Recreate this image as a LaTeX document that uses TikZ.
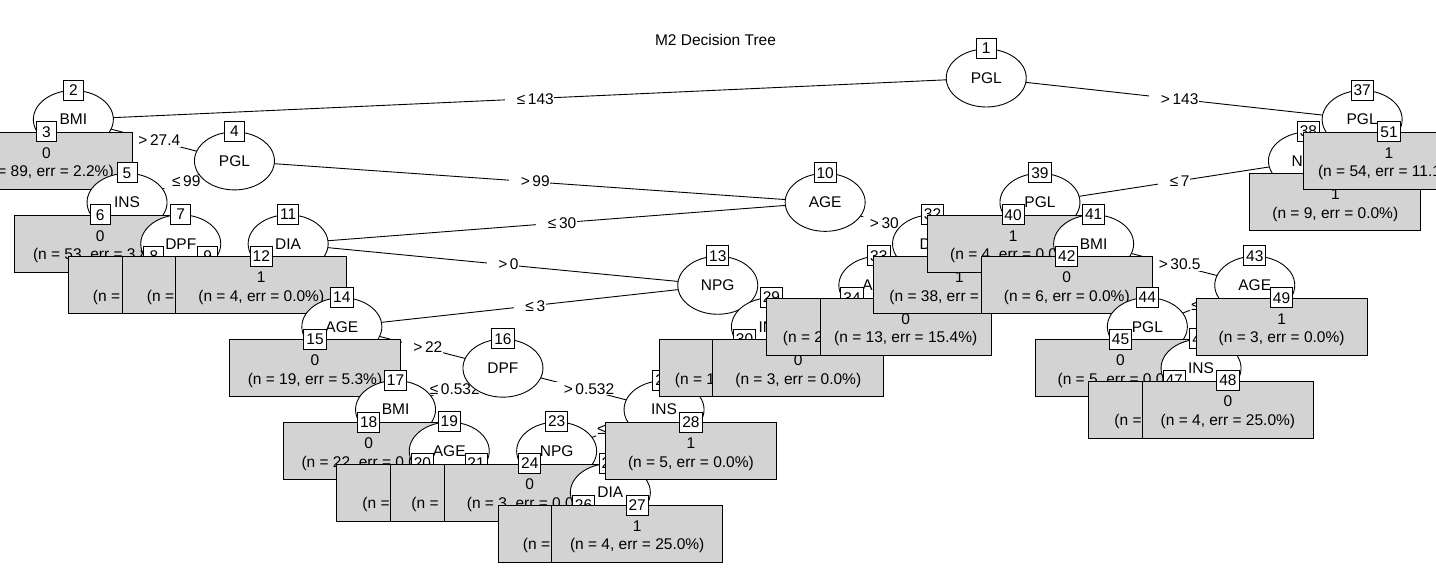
\documentclass[tikz,border=0pt]{standalone}
\usepackage{fontspec}
\setmainfont{Liberation Sans}
\usetikzlibrary{shapes.geometric,calc}
\definecolor{boxgray}{RGB}{211,211,211}
\tikzset{
  inner/.style={ellipse, draw, fill=white, minimum width=80pt, minimum height=58pt, inner sep=0pt},
  idbox/.style={rectangle, draw, fill=white, minimum width=20pt, minimum height=20pt, inner sep=2.5pt},
  leafbox/.style={rectangle, draw, fill=boxgray, minimum width=171pt, minimum height=57pt, anchor=north, inner sep=0pt},
  elbl/.style={fill=white, inner xsep=0.5pt, inner ysep=1pt, execute at begin node={\hspace*{11pt}}},
  plbl/.style={fill=white, inner sep=1pt, anchor=west},
  txt/.style={inner sep=0pt},
  frag/.style={inner sep=0pt, anchor=west},
}
\newcommand{\drawinner}[2]{\node[inner] (e#1) at (c#1) {#2}; \node[idbox] (i#1) at (e#1.north) {#1};}
\newcommand{\drawleaf}[1]{\node[leafbox] (b#1) at (t#1) {}; \node[idbox] (i#1) at (t#1) {#1};}
\newcommand{\leafclass}[2]{\node[txt] (k#1) at ([yshift=-21pt]t#1) {#2};}
\newcommand{\leafn}[2]{\node[txt] (m#1) at ([yshift=-41pt]t#1) {#2};}
\newcommand{\leaffrag}[3]{\path let \p1=([yshift=-41pt]t#1) in node[frag] (m#1) at (#2pt,\y1) {#3};}
\begin{document}
\begin{tikzpicture}[x=1pt, y=-1pt, line width=0.9pt, every node/.style={font=\fontsize{15.5pt}{18pt}\selectfont}]
\useasboundingbox (0,0) rectangle (1436,574);
\clip (0,0) rectangle (1436,574);
\fill[white] (0,0) rectangle (1436,574);
% inner node centres
\coordinate (c1) at (986.25,78);
\coordinate (c2) at (73.35,119.45);
\coordinate (c4) at (234.45,160.9);
\coordinate (c5) at (127.05,202.35);
\coordinate (c7) at (180.75,243.8);
\coordinate (c10) at (825.15,202.35);
\coordinate (c11) at (288.15,243.8);
\coordinate (c13) at (717.75,285.25);
\coordinate (c14) at (341.85,326.7);
\coordinate (c16) at (502.95,368.15);
\coordinate (c17) at (395.55,409.6);
\coordinate (c19) at (449.25,451.05);
\coordinate (c22) at (664.05,409.6);
\coordinate (c23) at (556.65,451.05);
\coordinate (c25) at (610.35,492.5);
\coordinate (c29) at (771.45,326.7);
\coordinate (c32) at (932.55,243.8);
\coordinate (c33) at (878.85,285.25);
\coordinate (c37) at (1362.15,119.45);
\coordinate (c38) at (1308.45,160.9);
\coordinate (c39) at (1039.95,202.35);
\coordinate (c41) at (1093.65,243.8);
\coordinate (c43) at (1254.75,285.25);
\coordinate (c44) at (1147.35,326.7);
\coordinate (c46) at (1201.05,368.15);
% terminal box tops
\coordinate (t3) at (46.5,131.9);
\coordinate (t6) at (100.2,214.8);
\coordinate (t8) at (153.9,256.25);
\coordinate (t9) at (207.6,256.25);
\coordinate (t12) at (261.3,256.25);
\coordinate (t15) at (315,339.15);
\coordinate (t18) at (368.7,422.05);
\coordinate (t20) at (422.4,463.5);
\coordinate (t21) at (476.1,463.5);
\coordinate (t24) at (529.8,463.5);
\coordinate (t26) at (583.5,504.95);
\coordinate (t27) at (637.2,504.95);
\coordinate (t28) at (690.9,422.05);
\coordinate (t30) at (744.6,339.15);
\coordinate (t31) at (798.3,339.15);
\coordinate (t34) at (852,297.7);
\coordinate (t35) at (905.7,297.7);
\coordinate (t36) at (959.4,256.25);
\coordinate (t40) at (1013.1,214.8);
\coordinate (t42) at (1066.8,256.25);
\coordinate (t45) at (1120.5,339.15);
\coordinate (t47) at (1174.2,380.6);
\coordinate (t48) at (1227.9,380.6);
\coordinate (t49) at (1281.6,297.7);
\coordinate (t50) at (1335.3,173.35);
\coordinate (t51) at (1389,131.9);
\coordinate (tpos) at (715.5,40);
\node (title) at (tpos) {M2 Decision Tree};
% node 1
\draw (c1) -- node[elbl]{≤\,143} (c2);
\draw (c1) -- node[elbl]{>\,143} (c37);
\drawinner{1}{PGL}
% node 2
\draw (c2) -- (t3);
\draw (c2) -- node[elbl]{>\,27.4} (c4);
\drawinner{2}{BMI}
\drawleaf{3}\leafclass{3}{0}\leafn{3}{(n = 89, err = 2.2\%)}
% node 4
\draw (c4) -- node[elbl]{≤\,99} (c5);
\draw (c4) -- node[elbl]{>\,99} (c10);
\drawinner{4}{PGL}
% node 5
\draw (c5) -- (t6);
\draw (c5) -- (c7);
\drawinner{5}{INS}
\drawleaf{6}\leafclass{6}{0}\leafn{6}{(n = 53, err = 3.8\%)}
% node 7
\draw (c7) -- (t8);
\draw (c7) -- (t9);
\drawinner{7}{DPF}
\drawleaf{8}\leaffrag{8}{92.5}{(n =}
\drawleaf{9}\leaffrag{9}{146.5}{(n =}
% node 10
\draw (c10) -- node[elbl]{≤\,30} (c11);
\draw (c10) -- node[elbl]{>\,30} (c32);
\drawinner{10}{AGE}
% node 11
\draw (c11) -- (t12);
\draw (c11) -- node[elbl]{>\,0} (c13);
\drawinner{11}{DIA}
\drawleaf{12}\leafclass{12}{1}\leafn{12}{(n = 4, err = 0.0\%)}
% node 13
\draw (c13) -- node[elbl]{≤\,3} (c14);
\draw (c13) -- node[elbl]{>\,3} (c29);
\drawinner{13}{NPG}
% node 14
\draw (c14) -- (t15);
\draw (c14) -- node[elbl]{>\,22} (c16);
\drawinner{14}{AGE}
\drawleaf{15}\leafclass{15}{0}\leafn{15}{(n = 19, err = 5.3\%)}
% node 16
\draw (c16) -- node[elbl]{≤\,0.532} (c17);
\draw (c16) -- node[elbl]{>\,0.532} (c22);
\drawinner{16}{DPF}
% node 17
\draw (c17) -- (t18);
\draw (c17) -- (c19);
\drawinner{17}{BMI}
\drawleaf{18}\leafclass{18}{0}\leafn{18}{(n = 22, err = 0.0\%)}
% node 19
\draw (c19) -- (t20);
\draw (c19) -- (t21);
\drawinner{19}{AGE}
\drawleaf{20}\leaffrag{20}{362}{(n =}
\drawleaf{21}\leaffrag{21}{411}{(n =}
% node 22
\draw (c22) -- (c23);
\coordinate (p22) at (596,430.3);
\node[plbl] (l22) at (p22) {≤};
\draw (c22) -- (t28);
\drawinner{22}{INS}
% node 23
\draw (c23) -- (t24);
\draw (c23) -- (c25);
\drawinner{23}{NPG}
\drawleaf{24}\leafclass{24}{0}\leafn{24}{(n = 3, err = 0.0\%)}
% node 25
\draw (c25) -- (t26);
\draw (c25) -- (t27);
\drawinner{25}{DIA}
\drawleaf{26}\leaffrag{26}{522.5}{(n =}
\drawleaf{27}\leafclass{27}{1}\leafn{27}{(n = 4, err = 25.0\%)}
\drawleaf{28}\leafclass{28}{1}\leafn{28}{(n = 5, err = 0.0\%)}
% node 29
\draw (c29) -- (t30);
\draw (c29) -- (t31);
\drawinner{29}{INS}
\drawleaf{30}\leaffrag{30}{674.5}{(n = 1}
\drawleaf{31}\leafclass{31}{0}\leafn{31}{(n = 3, err = 0.0\%)}
% node 32
\draw (c32) -- (c33);
\draw (c32) -- (t36);
\drawinner{32}{DIA}
% node 33
\draw (c33) -- (t34);
\draw (c33) -- (t35);
\drawinner{33}{AGE}
\drawleaf{34}\leaffrag{34}{782.5}{(n = 2}
\drawleaf{35}\leafclass{35}{0}\leafn{35}{(n = 13, err = 15.4\%)}
\drawleaf{36}\leafclass{36}{1}\leaffrag{36}{889}{(n = 38, err =}
% node 37
\draw (c37) -- (c38);
\draw (c37) -- (t51);
\drawinner{37}{PGL}
% node 38
\draw (c38) -- node[elbl]{≤\,7} (c39);
\draw (c38) -- (t50);
\drawinner{38}{NPG}
% node 39
\draw (c39) -- (t40);
\draw (c39) -- (c41);
\drawinner{39}{PGL}
\drawleaf{40}\leafclass{40}{1}\leafn{40}{(n = 4, err = 0.0\%)}
% node 41
\draw (c41) -- (t42);
\draw (c41) -- node[elbl]{>\,30.5} (c43);
\drawinner{41}{BMI}
\drawleaf{42}\leafclass{42}{0}\leafn{42}{(n = 6, err = 0.0\%)}
% node 43
\draw (c43) -- (c44);
\coordinate (p43) at (1190,306);
\node[plbl] (l43) at (p43) {≤};
\draw (c43) -- (t49);
\drawinner{43}{AGE}
% node 44
\draw (c44) -- (t45);
\draw (c44) -- (c46);
\drawinner{44}{PGL}
\drawleaf{45}\leafclass{45}{0}\leafn{45}{(n = 5, err = 0.0\%)}
% node 46
\draw (c46) -- (t47);
\draw (c46) -- (t48);
\drawinner{46}{INS}
\drawleaf{47}\leaffrag{47}{1114}{(n =}
\drawleaf{48}\leafclass{48}{0}\leafn{48}{(n = 4, err = 25.0\%)}
\drawleaf{49}\leafclass{49}{1}\leafn{49}{(n = 3, err = 0.0\%)}
\drawleaf{50}\leafclass{50}{1}\leafn{50}{(n = 9, err = 0.0\%)}
\drawleaf{51}\leafclass{51}{1}\leafn{51}{(n = 54, err = 11.1\%)}
\end{tikzpicture}
\end{document}
